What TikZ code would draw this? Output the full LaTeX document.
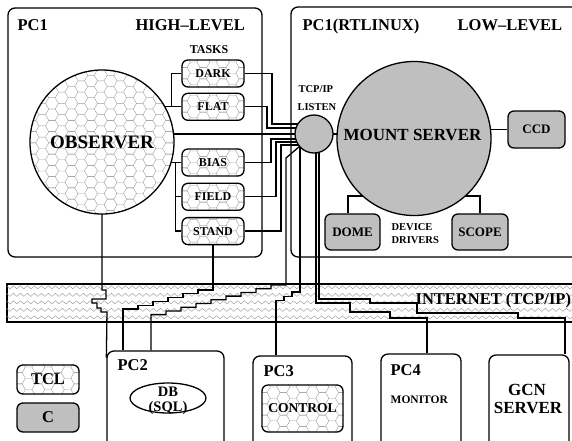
\documentclass[tikz,border=0pt]{standalone}
\usepackage{fontspec}
\setmainfont{Liberation Serif}
\usetikzlibrary{positioning,shapes.geometric}

\newcommand{\hexgrid}[2]{%
	\foreach \i in {0,...,#1} {\foreach \j in {0,...,#2} {
			\draw[hexline, shift={({\i*19.5},{\j*11.26})}]
			(0,5.63) -- (3.25,11.26) -- (9.75,11.26) -- (13,5.63) -- (9.75,0) -- (3.25,0) -- cycle
			(13,5.63) -- (19.5,5.63);
	}}%
}
\pgfdeclarelayer{band}
\pgfdeclarelayer{wires}
\pgfdeclarelayer{cover}
\pgfsetlayers{band,wires,cover,main}

\begin{document}
\begin{tikzpicture}[
		x=1pt, y=-1pt,
		line width=1.3pt,
		every node/.style={inner sep=0pt},
		pcbox/.style={draw, line width=1.3pt, rounded corners=7pt},
		task/.style={draw, line width=1.3pt, rounded corners=6pt,
			minimum width=62pt, minimum height=27pt,
			font=\bfseries\fontsize{12}{13}\selectfont},
		cbox/.style={draw, line width=1.3pt, rounded corners=6pt, fill=gray!50},
		hexline/.style={line width=0.4pt, draw=gray!75},
		zigline/.style={line width=0.4pt, draw=gray!85},
		bigtxt/.style={font=\bfseries\fontsize{16.5}{18}\selectfont},
		midtxt/.style={font=\bfseries\fontsize{13}{14}\selectfont},
		smalltxt/.style={font=\bfseries\fontsize{10.5}{12}\selectfont}
		]
		\useasboundingbox (0,0) rectangle (572,440);
		
		\node (hilevel) [pcbox, minimum width=254pt, minimum height=249pt] at (135,132.5) {};
		\node (lowlevel) [pcbox, minimum width=309pt, minimum height=250pt] at (445.5,132) {};
		\node (pc1lbl) [bigtxt, anchor=base west] at (17,30) {PC1};
		\node (hilbl) [bigtxt, anchor=base west] at (135,30) {HIGH--LEVEL};
		\node (rtlbl) [bigtxt, anchor=base west] at (302,30) {PC1(RTLINUX)};
		\node (lolbl) [bigtxt, anchor=base west] at (457,30) {LOW--LEVEL};
		
		\node (obs) [circle, draw, line width=1.3pt, minimum size=144pt] at (102,142) {};
		\node (obslbl) [font=\bfseries\fontsize{19}{21}\selectfont, anchor=base] at (102,148) {OBSERVER};
		
		\node (tasklbl) [font=\bfseries\fontsize{12}{13}\selectfont, anchor=base] at (209,53.5) {TASKS};
		\node (dark) [task] at (213,73.5) {DARK};
		\node (flat) [task, below=5pt of dark] {FLAT};
		\node (bias) [task] at (213,162.5) {BIAS};
		\node (field) [task, below=6pt of bias] {FIELD};
		\node (stand) [task, below=6pt of field] {STAND};
		
		\node (listen) [circle, draw, line width=1.3pt, fill=gray!50, minimum size=38pt] at (314,134) {};
		\node (tcplbl) [smalltxt, anchor=base west] at (298,92) {TCP/IP};
		\node (listenlbl) [smalltxt, anchor=base west] at (297,110) {LISTEN};
		\node (mount) [circle, draw, line width=1.3pt, fill=gray!50, minimum size=154pt] at (414,138.5) {};
		\node (mountlbl) [font=\bfseries\fontsize{17}{19}\selectfont, anchor=base] at (412.5,140) {MOUNT SERVER};
		\node (ccd) [cbox, midtxt, minimum width=57pt, minimum height=37pt] at (536.5,129.5) {CCD};
		\node (dome) [cbox, midtxt, minimum width=55pt, minimum height=36pt] at (352.5,232) {DOME};
		\node (scope) [cbox, midtxt, minimum width=56pt, minimum height=36pt] at (480,232) {SCOPE};
		\node (devlbl) [smalltxt, anchor=base west] at (391,230) {DEVICE};
		\node (drvlbl) [smalltxt, anchor=base west] at (391,243) {DRIVERS};
		
		\node (netlbl) [bigtxt, anchor=base west] at (415,304) {INTERNET (TCP/IP)};
		
		\node (tcl) [draw, line width=1.3pt, rounded corners=6pt, bigtxt,
		minimum width=62pt, minimum height=29pt] at (48,379.5) {TCL};
		\node (clang) [cbox, bigtxt, minimum width=62pt, minimum height=29pt] at (48,417.5) {C};
		\node (pc2) [pcbox, minimum width=117pt, minimum height=109pt] at (165.5,405.5) {};
		\node (pc2lbl) [bigtxt, anchor=base west] at (117,370) {PC2};
		\node (db) [ellipse, draw, line width=1.3pt, minimum width=76pt, minimum height=30pt] at (168,398) {};
		\node (dblbl) [font=\bfseries\fontsize{14.5}{16}\selectfont, anchor=base] at (168,396) {DB};
		\node (sqllbl) [font=\bfseries\fontsize{14.5}{16}\selectfont, anchor=base] at (168,411) {(SQL)};
		\node (pc3) [pcbox, minimum width=99pt, minimum height=104pt] at (302.5,408) {};
		\node (pc3lbl) [bigtxt, anchor=base west] at (263,376) {PC3};
		\node (control) [draw, line width=1.3pt, rounded corners=6pt,
		font=\bfseries\fontsize{13.5}{15}\selectfont,
		minimum width=81pt, minimum height=47pt] at (302.5,408.5) {CONTROL};
		\node (pc4) [pcbox, minimum width=80pt, minimum height=106pt] at (421,407) {};
		\node (pc4lbl) [bigtxt, anchor=base west] at (390,375) {PC4};
		\node (monlbl) [font=\bfseries\fontsize{11.5}{13}\selectfont, anchor=base west] at (390,403) {MONITOR};
		\node (gcn) [pcbox, minimum width=80pt, minimum height=105pt] at (529,407.5) {};
		\node (gcnlbl) [font=\bfseries\fontsize{17}{19}\selectfont, anchor=base] at (527,395) {GCN};
		\node (srvlbl) [font=\bfseries\fontsize{17}{19}\selectfont, anchor=base] at (528,413) {SERVER};
		
		\begin{pgfonlayer}{band}
			\node (net) [draw, line width=1.3pt, fill=white, minimum width=593pt, minimum height=38pt] at (303.5,303) {};
			\begin{scope}
				\clip (net.south west) rectangle (net.north east);
				\foreach \r in {0,...,4}
				\draw[zigline] (net.north west) ++(0,{2.5+\r*7.5})
				\foreach \t in {1,...,86} {-- ++(3.5,3) -- ++(3.5,-3)};
			\end{scope}
			\draw[line width=1.3pt] (net.north west) -- (net.north east) (net.south west) -- (net.south east);
		\end{pgfonlayer}
		
		\begin{pgfonlayer}{cover}
			\foreach \n in {dark,flat,bias,field,stand,tcl,control} {
				\begin{scope}
					\clip[rounded corners=6pt] (\n.south west) rectangle (\n.north east);
					\fill[white] (\n.south west) rectangle (\n.north east);
					\begin{scope}[shift={(\n.north west)}, shift={(-4,-3)}]
						\hexgrid{4}{4}
					\end{scope}
				\end{scope}
			}
			\begin{scope}
				\clip (obs.center) circle (72);
				\fill[white] (obs.center) circle (72);
				\begin{scope}[shift={(obs.center)}, shift={(-76,-78)}]
					\hexgrid{7}{13}
				\end{scope}
			\end{scope}
		\end{pgfonlayer}
		
		\begin{pgfonlayer}{wires}
			\begin{scope}[black, line width=1.3pt]
				\draw (obs.center |- flat.west) -- (flat.west);
				\draw (flat.west) ++(-10,0) |- (dark.west);
				\draw (obs.center |- bias.west) -- (bias.west);
				\draw (bias.west) ++(-6,0) |- (field.west);
				\draw (bias.west) ++(-6,0) |- (stand.west);
				
				\draw (dark.east) -| (272,124) -- (listen.center |- 0,124);
				\draw (flat.east) -| (267,128) -- (listen.center |- 0,128);
				\draw (obs.center |- listen.center) -- (listen.center);
				\draw (bias.east) -| (271,139) -- (listen.center |- 0,139);
				\draw (field.east) -| (276,142) -- (listen.center |- 0,142);
				\draw (stand.east) -| (281,145) -- (listen.center |- 0,145);
				
				\draw (listen.center) -- (mount.center |- listen.center);
				\draw (mount.center |- ccd.west) -- (ccd.west);
				\draw (mount.center |- 0,196) -| ([xshift=-4.5pt]dome.north);
				\draw (mount.center |- 0,196) -| (scope.north);
				
				\draw (obs.center) -- (102,290) -- (106,290) -- (106,299) -- (92,299) -- (92,303)
				-- (97,303) -- (97,308) -- (101,308) -- (101,312) -- (107,312)
				-- ([yshift=-7pt]pc2.north west);
				\draw (stand.south) -- (stand.south |- 0,290)
				\foreach \k in {1,...,6} {-- ++(-15,0) -- ++(0,3.8)} -- (pc2.north -| 123,0);
				\draw (listen.center) -- (286,158) -- (286,285)
				\foreach \k in {1,...,9} {-- ++(-15,0) -- ++(0,3.7)} -- (pc2.north -| 151,0);
				\draw (listen.center -| 300,0) -- (300,292)
				\foreach \k in {1,2,3} {-- ++(-8,0) -- ++(0,4.3)} -- (pc3.north -| 276,0);
				\draw (listen.center -| 316,0) -- (316,303) -- (350,303) -- (350,312) -- (390,312)
				-- (390,318) -- (427,318) -- (pc4.north -| 427,0);
				\draw (listen.center -| 319,0) -- (319,299) -- (370,299) -- (370,303) -- (417,303)
				-- (417,313) -- (518,313) -- (518,318) -- (565,318) -- (gcn.north -| 565,0);
			\end{scope}
		\end{pgfonlayer}
		
	\end{tikzpicture}
\end{document}
